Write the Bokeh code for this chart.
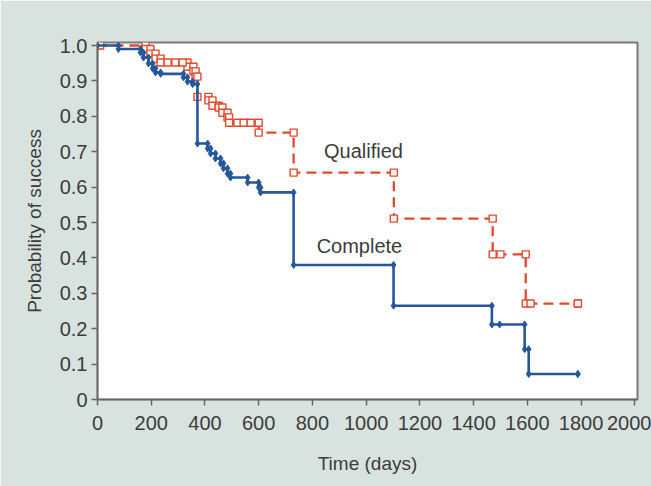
from bokeh.plotting import figure
from bokeh.models import Range1d, FixedTicker
from bokeh.core.properties import value
from bokeh.embed import file_html
from bokeh.resources import INLINE

# ---- data ----
# Complete: event times and survival after each event
complete_t = [0, 78, 160, 171, 190, 205, 216, 235, 320, 335, 354, 372, 410, 421, 439, 458,
              469, 484, 495, 559, 600, 607, 730, 1102, 1468, 1590, 1605]
complete_s = [1.0, 0.99, 0.98, 0.966, 0.949, 0.935, 0.924, 0.92, 0.91, 0.898, 0.891, 0.723,
              0.709, 0.695, 0.681, 0.667, 0.653, 0.638, 0.627, 0.613, 0.599, 0.585, 0.38,
              0.265, 0.212, 0.142, 0.072]
complete_end = 1788
complete_censor_t = [1497, 1788]
complete_censor_s = [0.212, 0.072]

# Qualified
qualified_t = [0, 179, 197, 216, 235, 335, 357, 365, 372, 413, 428, 451, 465, 484, 490,
               600, 730, 1103, 1471, 1594]
qualified_s = [1.0, 0.99, 0.977, 0.963, 0.952, 0.94, 0.927, 0.912, 0.855, 0.845, 0.83,
               0.825, 0.81, 0.797, 0.782, 0.754, 0.641, 0.511, 0.41, 0.271]
qualified_end = 1788
qualified_censor_t = [10, 261, 290, 317, 521, 544, 570, 1500, 1612, 1788]
qualified_censor_s = [1.0, 0.952, 0.952, 0.952, 0.782, 0.782, 0.782, 0.41, 0.271, 0.271]

x_ticks = [0, 200, 400, 600, 800, 1000, 1200, 1400, 1600, 1800, 2000]
y_ticks = [0, 0.1, 0.2, 0.3, 0.4, 0.5, 0.6, 0.7, 0.8, 0.9, 1.0]
y_tick_labels = ["0", "0.1", "0.2", "0.3", "0.4", "0.5", "0.6", "0.7", "0.8", "0.9", "1.0"]

labels_text = ["Qualified", "Complete"]
labels_x = [990, 975]
labels_y = [0.703, 0.435]


def step_vertices(t, s, end):
    xs, ys = [t[0]], [s[0]]
    for i in range(1, len(t)):
        xs += [t[i], t[i]]
        ys += [s[i - 1], s[i]]
    xs.append(end)
    ys.append(s[-1])
    return xs, ys


FONT = "Liberation Sans"
BG = "#d8e3df"
TXT = "#3c3c3c"

p = figure(width=651, height=486, output_backend="svg", toolbar_location=None,
           x_range=Range1d(0, 2010), y_range=Range1d(0, 1.0085),
           min_border_left=97, min_border_right=14, min_border_top=42, min_border_bottom=87)
p.background_fill_color = "white"
p.border_fill_color = BG
p.outline_line_color = "#7a7a7a"
p.outline_line_width = 2
p.grid.visible = False

cx, cy = step_vertices(complete_t, complete_s, complete_end)
qx, qy = step_vertices(qualified_t, qualified_s, qualified_end)

RED = "#e4482c"
BLUE = "#24589b"

p.line(qx, qy, line_color=RED, line_width=2.3, line_dash="10 6")
p.scatter(qx, qy, marker="square", size=7, line_color=RED, fill_color="white", line_width=1.4)
p.scatter(qualified_censor_t, qualified_censor_s, marker="square", size=7, line_color=RED,
          fill_color="white", line_width=1.4)

p.line(cx, cy, line_color=BLUE, line_width=2.6)
p.scatter(cx, cy, marker="diamond", size=7, line_color=BLUE, fill_color=BLUE)
p.scatter(complete_censor_t, complete_censor_s, marker="diamond", size=7,
          line_color=BLUE, fill_color=BLUE)

p.text(x=labels_x, y=labels_y, text=labels_text, text_font=value(FONT),
       text_font_size="20px", text_color=TXT, text_align="center",
       text_baseline="middle")

for ax in (p.xaxis[0], p.yaxis[0]):
    ax.axis_line_color = "#666666"
    ax.axis_line_width = 1.5
    ax.major_tick_line_color = "#666666"
    ax.major_tick_line_width = 1.5
    ax.major_tick_in = 0
    ax.major_tick_out = 6
    ax.minor_tick_line_color = None
    ax.major_label_text_font = FONT
    ax.major_label_text_font_size = "20px"
    ax.major_label_text_color = TXT
    ax.axis_label_text_font = FONT
    ax.axis_label_text_font_size = "19px"
    ax.axis_label_text_color = TXT
    ax.axis_label_text_font_style = "normal"

p.xaxis.ticker = FixedTicker(ticks=x_ticks)
p.yaxis.ticker = FixedTicker(ticks=y_ticks)
p.yaxis.major_label_overrides = {t: l for t, l in zip(y_ticks, y_tick_labels)}
p.xaxis.axis_label = "Time (days)"
p.yaxis.axis_label = "Probability of success"
p.xaxis.major_label_standoff = 10
p.yaxis.major_label_standoff = 4
p.xaxis.axis_label_standoff = 20
p.yaxis.axis_label_standoff = 12

open("out.html", "w").write(file_html(p, INLINE))
